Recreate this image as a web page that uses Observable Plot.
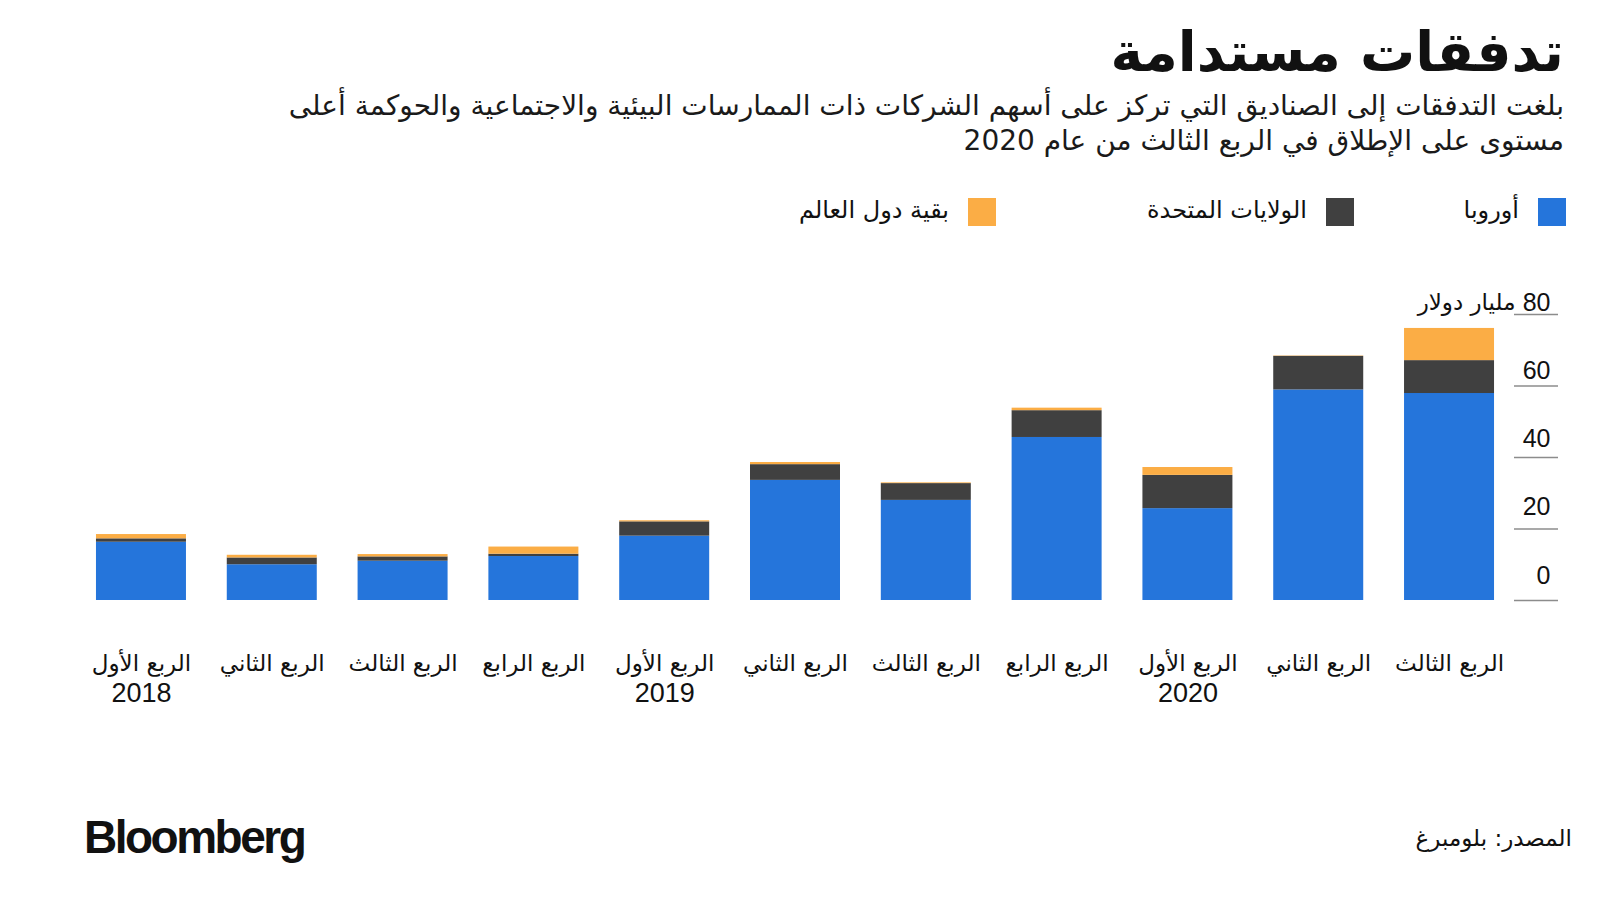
<!DOCTYPE html>
<html lang="ar">
<head>
<meta charset="utf-8">
<script src="https://cdn.jsdelivr.net/npm/d3@7"></script>
<script src="https://cdn.jsdelivr.net/npm/@observablehq/plot@0.6"></script>
<style>
  html, body { margin: 0; padding: 0; background: #fff; }
  #root { position: relative; width: 1600px; height: 900px; overflow: hidden; background: #fff;
          font-family: "Liberation Sans", "DejaVu Sans", sans-serif; color: #111; }
  .abs { position: absolute; white-space: nowrap; }
  #title { right: 36px; top: 20px; font-family: "DejaVu Sans", sans-serif; font-weight: 700; font-size: 55px; line-height: 64px; direction: rtl; }
  .sub { right: 36px; font-family: "DejaVu Sans", sans-serif; font-size: 28px; line-height: 36px; direction: rtl; color: #1a1a1a; }
  .leg-sw { position: absolute; width: 28px; height: 28px; }
  .leg-tx { position: absolute; font-family: "DejaVu Sans", sans-serif; font-size: 24px; line-height: 28px; direction: rtl; text-align: right; white-space: nowrap; }
  #logo { left: 84px; top: 810px; font-family: "Liberation Sans", Arial, sans-serif; font-weight: 700; font-size: 46px; letter-spacing: -2.5px; line-height: 54px; color: #111; }
  #source { right: 28px; top: 823px; font-family: "DejaVu Sans", sans-serif; font-size: 23px; line-height: 30px; direction: rtl; }
  #chart { position: absolute; left: 0; top: 0; }
</style>
</head>
<body>
<div id="root">
  <div id="chart"></div>
  <div id="title" class="abs"></div>
  <div id="sub1" class="abs sub" style="top:88px"></div>
  <div id="sub2" class="abs sub" style="top:123px"></div>
  <div id="legend"></div>
  <div id="logo" class="abs"></div>
  <div id="source" class="abs"></div>
</div>
<script>
// ---- Data ----
const periods = ["2018-Q1","2018-Q2","2018-Q3","2018-Q4","2019-Q1","2019-Q2","2019-Q3","2019-Q4","2020-Q1","2020-Q2","2020-Q3"];
const quarterLabels = ["الربع الأول","الربع الثاني","الربع الثالث","الربع الرابع","الربع الأول","الربع الثاني","الربع الثالث","الربع الرابع","الربع الأول","الربع الثاني","الربع الثالث"];
const yearLabels = ["2018","","","","2019","","","","2020","",""];
const europe = [16.3, 10.0, 11.0, 12.3, 18.0, 33.6, 28.0, 45.6, 25.7, 58.9, 57.9];
const usa    = [0.95, 1.9, 1.2, 0.65, 4.0, 4.4, 4.7, 7.5, 9.3, 9.4, 9.2];
const rest   = [1.2, 0.75, 0.65, 2.0, 0.3, 0.6, 0.2, 0.7, 2.2, 0.1, 9.0];
const seriesNames = ["أوروبا", "الولايات المتحدة", "بقية دول العالم"];
const seriesColors = ["#2575DB", "#404040", "#FBAD45"];
const yTicks = [0, 20, 40, 60, 80];
const unitLabel = "مليار دولار";
const titleText = "تدفقات مستدامة";
const subtitleLines = [
  "بلغت التدفقات إلى الصناديق التي تركز على أسهم الشركات ذات الممارسات البيئية والاجتماعية والحوكمة أعلى",
  "مستوى على الإطلاق في الربع الثالث من عام 2020"
];
const sourceText = "المصدر: بلومبرغ";
const logoText = "Bloomberg";

// ---- Table ----
const rows = [];
[europe, usa, rest].forEach((vals, s) => vals.forEach((v, i) => rows.push({period: periods[i], series: seriesNames[s], value: v})));

// ---- Texts ----
document.getElementById("title").textContent = titleText;
document.getElementById("sub1").textContent = subtitleLines[0];
document.getElementById("sub2").textContent = subtitleLines[1];
document.getElementById("source").textContent = sourceText;
document.getElementById("logo").textContent = logoText;

// ---- Legend ----
const legendSwatchRight = [34, 246, 604];   // distance from right edge of page
const legend = document.getElementById("legend");
seriesNames.forEach((name, i) => {
  const sw = document.createElement("div");
  sw.className = "leg-sw";
  sw.style.background = seriesColors[i];
  sw.style.right = legendSwatchRight[i] + "px";
  sw.style.top = "198px";
  legend.appendChild(sw);
  const tx = document.createElement("div");
  tx.className = "leg-tx";
  tx.textContent = name;
  tx.style.right = (legendSwatchRight[i] + 47) + "px";
  tx.style.top = "196px";
  legend.appendChild(tx);
});

// ---- Chart ----
const tickLabelMarks = yTicks.map(t =>
  Plot.text([t], {y: d => d, text: d => String(d), frameAnchor: "right", textAnchor: "end", dx: 37, dy: -12 - (80 - t) / 20 * 3.25, fontSize: 25, fill: "#111"})
);
const chart = Plot.plot({
  width: 1600,
  height: 720,
  marginTop: 314,
  marginBottom: 120,
  marginLeft: 77,
  marginRight: 87,
  style: {fontFamily: "'Liberation Sans', 'DejaVu Sans', sans-serif", color: "#111", background: "transparent", overflow: "visible"},
  x: {domain: periods, paddingInner: 0.312, paddingOuter: 0.145, round: false, axis: null},
  y: {domain: [0, 80], axis: null},
  color: {domain: seriesNames, range: seriesColors},
  marks: [
    Plot.barY(rows, Plot.stackY({x: "period", y: "value", fill: "series"})),
    Plot.axisY(yTicks, {anchor: "right", tickSize: 44, tickFormat: () => "", label: null, stroke: "#8c8c8c", strokeWidth: 1.3}),
    ...tickLabelMarks,
    Plot.text([80], {y: d => d, text: () => unitLabel, frameAnchor: "right", textAnchor: "end", dx: 2, dy: -12, fontSize: 23, fontFamily: "DejaVu Sans", fill: "#111"}),
    Plot.text(periods, {x: d => d, text: (d, i) => quarterLabels[i], frameAnchor: "bottom", dy: 70, fontSize: 23, fontFamily: "DejaVu Sans", fill: "#111"}),
    Plot.text(periods, {x: d => d, text: (d, i) => yearLabels[i], frameAnchor: "bottom", dy: 101, fontSize: 27, fill: "#111"})
  ]
});
document.getElementById("chart").appendChild(chart);
</script>
</body>
</html>
